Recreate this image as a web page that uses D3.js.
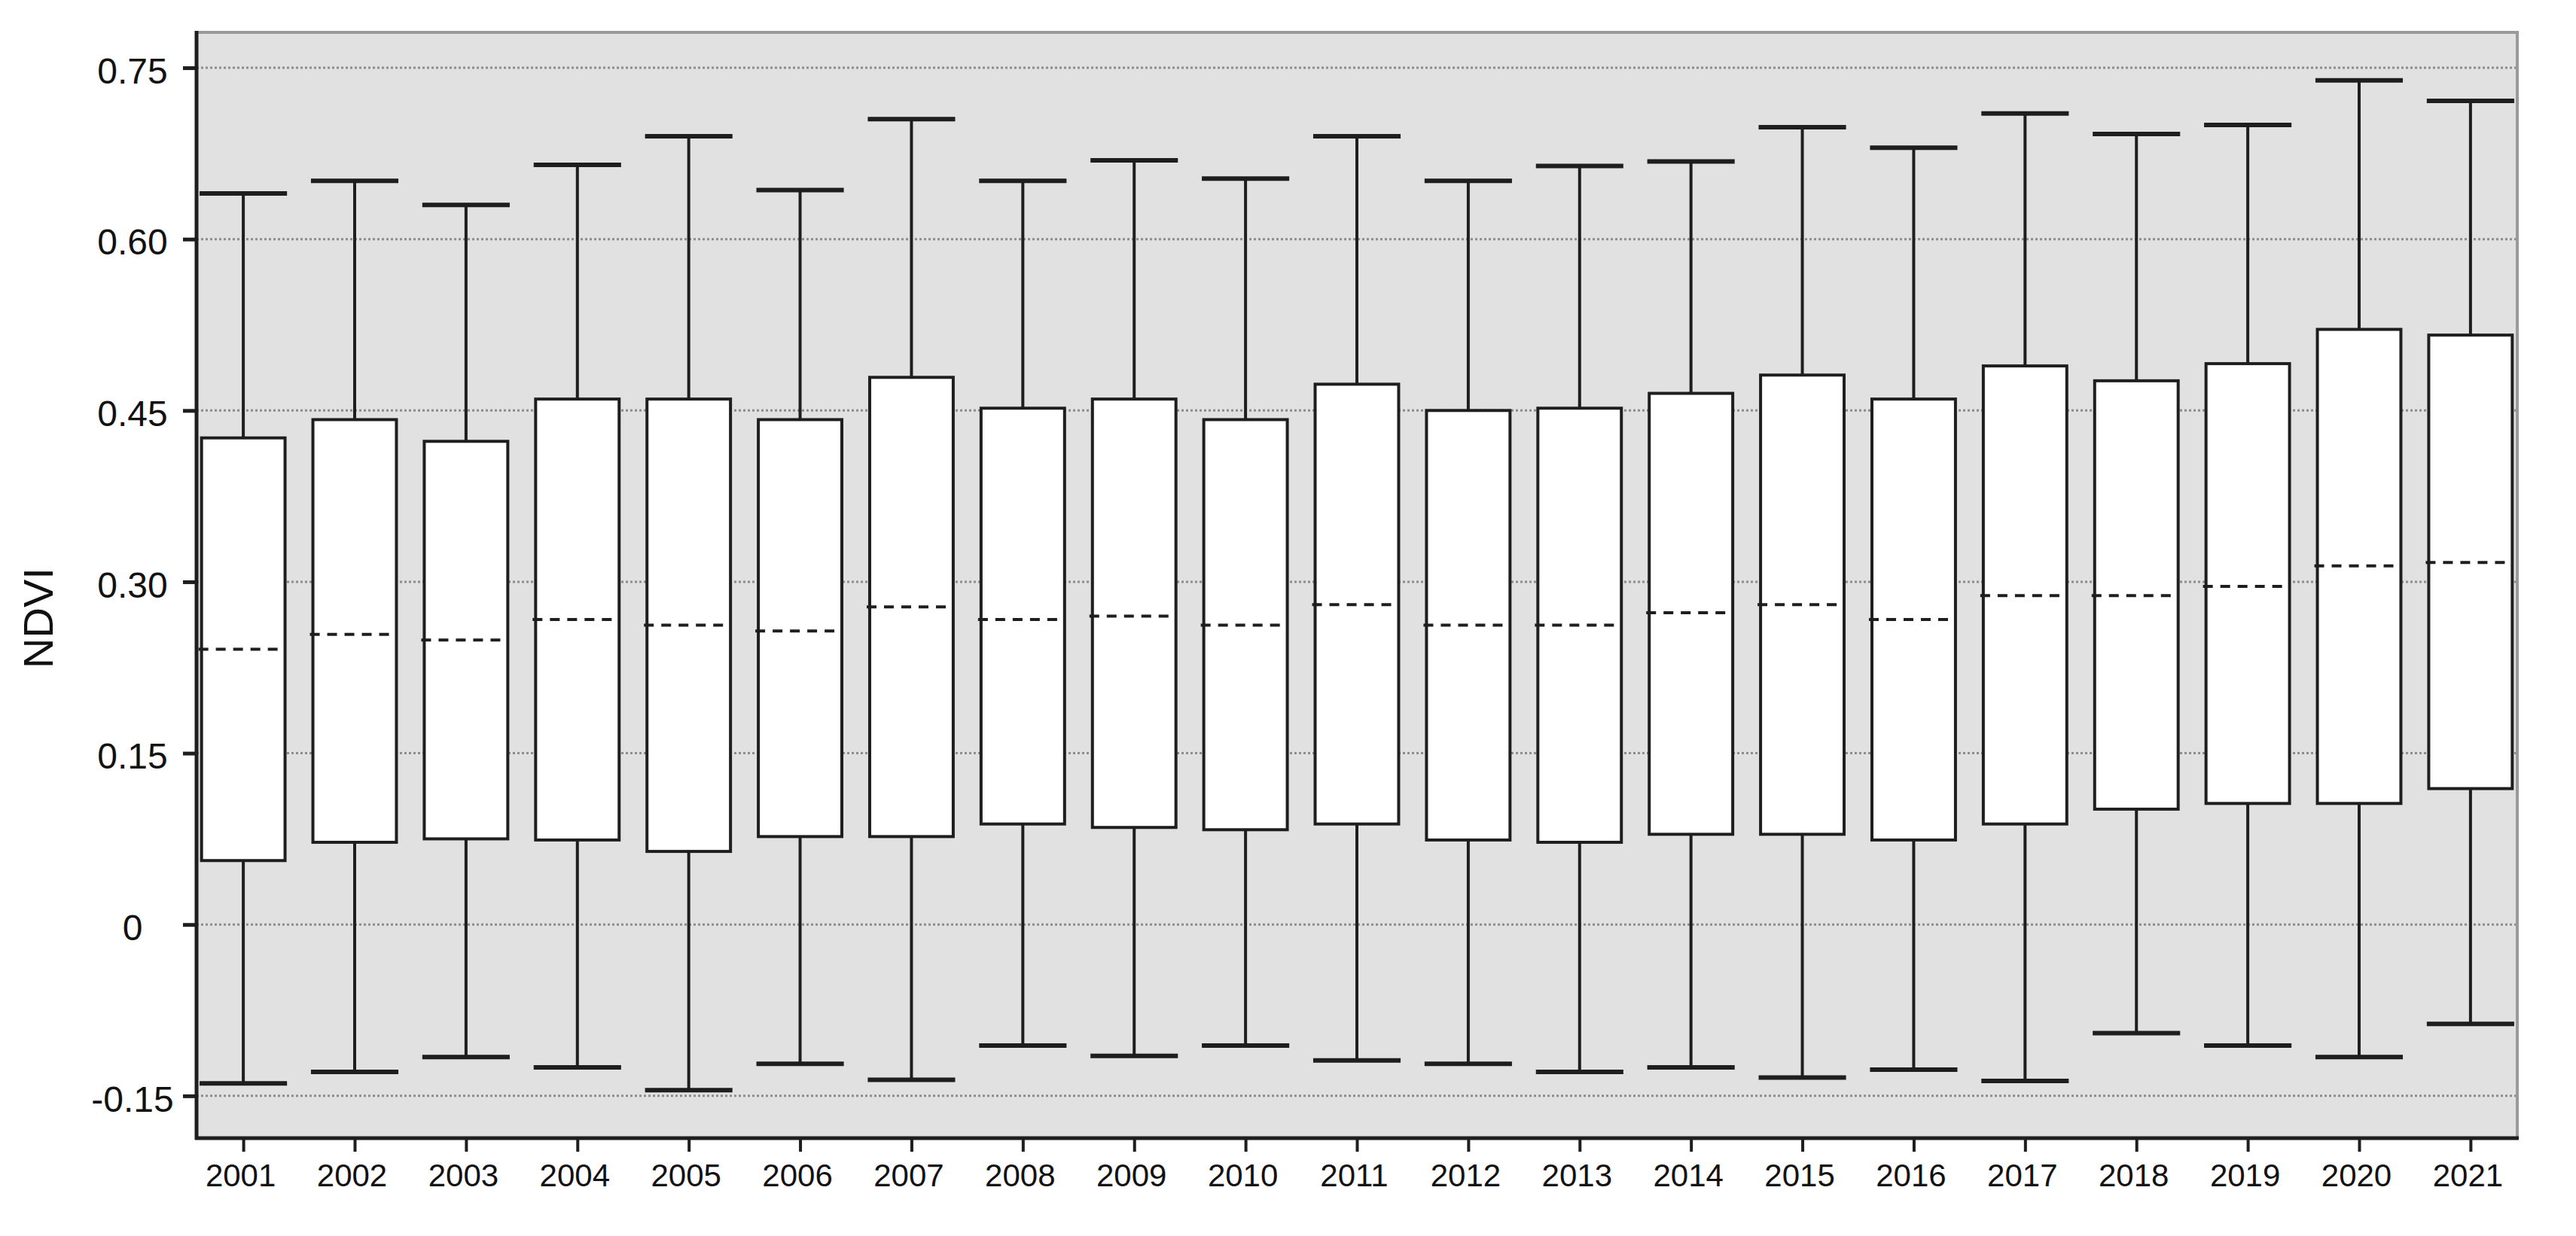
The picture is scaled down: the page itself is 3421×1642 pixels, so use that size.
<!DOCTYPE html>
<html>
<head>
<meta charset="utf-8">
<script src="https://cdn.jsdelivr.net/npm/d3@7"></script>
<style>
    body { margin: 0; background: #fff; }
    text { font-family: "Liberation Sans", Arial, sans-serif; fill: #111; }
</style>
</head>
<body>
<div id="chart"></div>
<script>
// NDVI box plot values
var years = ["2001", "2002", "2003", "2004", "2005", "2006", "2007", "2008", "2009", "2010", "2011",
             "2012", "2013", "2014", "2015", "2016", "2017", "2018", "2019", "2020", "2021"];
var upper  = [0.640, 0.651, 0.630, 0.665, 0.690, 0.643, 0.705, 0.651, 0.669, 0.653, 0.690,
              0.651, 0.664, 0.668, 0.698, 0.680, 0.710, 0.692, 0.700, 0.739, 0.721];
var q3     = [0.426, 0.442, 0.423, 0.460, 0.460, 0.442, 0.479, 0.452, 0.460, 0.442, 0.473,
              0.450, 0.452, 0.465, 0.481, 0.460, 0.489, 0.476, 0.491, 0.521, 0.516];
var median = [0.241, 0.254, 0.249, 0.267, 0.262, 0.257, 0.278, 0.267, 0.270, 0.262, 0.280,
              0.262, 0.262, 0.273, 0.280, 0.267, 0.288, 0.288, 0.296, 0.314, 0.317];
var q1     = [0.056, 0.072, 0.075, 0.074, 0.064, 0.077, 0.077, 0.088, 0.085, 0.083, 0.088,
              0.074, 0.072, 0.079, 0.079, 0.074, 0.088, 0.101, 0.106, 0.106, 0.119];
var lower  = [-0.139, -0.129, -0.116, -0.125, -0.145, -0.122, -0.136, -0.106, -0.115, -0.106, -0.119,
              -0.122, -0.129, -0.125, -0.134, -0.127, -0.137, -0.095, -0.106, -0.116, -0.087];
var yTicks = [-0.15, 0, 0.15, 0.30, 0.45, 0.60, 0.75];
var yTickLabels = ["-0.15", "0", "0.15", "0.30", "0.45", "0.60", "0.75"];

var data = years.map(function(y, i) {
    return { year: y, upper: upper[i], q3: q3[i], median: median[i], q1: q1[i], lower: lower[i] };
});

var outerWidth = 3421;
var outerHeight = 1642;

var margin = {top: 43, right: 78, bottom: 130, left: 261}
    , width = outerWidth - margin.left - margin.right
    , height = outerHeight - margin.top - margin.bottom;

var svg = d3.select("#chart")
    .append("svg")
    .attr("width", outerWidth)
    .attr("height", outerHeight)
    .append("g")
    .attr("transform", "translate(" + margin.left + "," + margin.top + ")");

var xScale = d3.scalePoint()
    .domain(years)
    .range([0, width])
    .padding(0.42);

var yScale = d3.scaleLinear()
    .domain([-0.187, 0.781])
    .range([height, 0]);

var step = xScale.step();
var boxW = step * 0.75;
var capW = step * 0.785;

// plot background
svg.append("rect")
    .attr("width", width)
    .attr("height", height)
    .attr("fill", "#e1e1e1");

// dotted grid
svg.selectAll(".grid")
    .data(yTicks)
    .enter()
    .append("line")
    .attr("class", "grid")
    .attr("x1", 0)
    .attr("x2", width)
    .attr("y1", d => yScale(d))
    .attr("y2", d => yScale(d))
    .attr("stroke", "#8c8c8c")
    .attr("stroke-width", 3)
    .attr("stroke-dasharray", "3,3");

// top and right frame in grey
svg.append("path")
    .attr("d", "M0,0H" + width + "V" + height)
    .attr("fill", "none")
    .attr("stroke", "#9a9a9a")
    .attr("stroke-width", 4);

var boxes = svg.selectAll(".box")
    .data(data)
    .enter()
    .append("g")
    .attr("class", "box")
    .attr("transform", d => "translate(" + xScale(d.year) + ",0)");

// whiskers
boxes.append("line")
    .attr("x1", 0).attr("x2", 0)
    .attr("y1", d => yScale(d.upper))
    .attr("y2", d => yScale(d.q3))
    .attr("stroke", "#1e1e1e")
    .attr("stroke-width", 4);

boxes.append("line")
    .attr("x1", 0).attr("x2", 0)
    .attr("y1", d => yScale(d.q1))
    .attr("y2", d => yScale(d.lower))
    .attr("stroke", "#1e1e1e")
    .attr("stroke-width", 4);

// caps
boxes.append("line")
    .attr("x1", -capW / 2).attr("x2", capW / 2)
    .attr("y1", d => yScale(d.upper))
    .attr("y2", d => yScale(d.upper))
    .attr("stroke", "#1e1e1e")
    .attr("stroke-width", 6);

boxes.append("line")
    .attr("x1", -capW / 2).attr("x2", capW / 2)
    .attr("y1", d => yScale(d.lower))
    .attr("y2", d => yScale(d.lower))
    .attr("stroke", "#1e1e1e")
    .attr("stroke-width", 6);

// the box
boxes.append("rect")
    .attr("x", -boxW / 2)
    .attr("width", boxW)
    .attr("y", d => yScale(d.q3))
    .attr("height", d => yScale(d.q1) - yScale(d.q3))
    .attr("fill", "#fff")
    .attr("stroke", "#1e1e1e")
    .attr("stroke-width", 4);

// dashed median
boxes.append("line")
    .attr("x1", -boxW / 2 - 4)
    .attr("x2", boxW / 2 - 8)
    .attr("y1", d => yScale(d.median))
    .attr("y2", d => yScale(d.median))
    .attr("stroke", "#1e1e1e")
    .attr("stroke-width", 4)
    .attr("stroke-dasharray", "13,10");

// axes
var xAxis = d3.axisBottom(xScale)
    .tickSize(18)
    .tickPadding(16);

var gx = svg.append("g")
    .attr("class", "axis x-axis")
    .attr("transform", "translate(0," + height + ")")
    .call(xAxis);

gx.select(".domain")
    .attr("d", "M-2,0H" + (width + 2))
    .attr("stroke", "#1e1e1e")
    .attr("stroke-width", 5);
gx.selectAll(".tick line").attr("stroke", "#1e1e1e").attr("stroke-width", 4);
gx.selectAll(".tick text")
    .attr("font-size", 42)
    .attr("dy", "0.71em")
    .attr("dx", -4);

var yAxis = d3.axisLeft(yScale)
    .tickValues(yTicks)
    .tickSize(18)
    .tickFormat((d, i) => yTickLabels[i]);

var gy = svg.append("g")
    .attr("class", "axis y-axis")
    .call(yAxis);

gy.select(".domain")
    .attr("d", "M0,-2V" + (height + 2))
    .attr("stroke", "#1e1e1e")
    .attr("stroke-width", 5);
gy.selectAll(".tick line").attr("stroke", "#1e1e1e").attr("stroke-width", 5);
gy.selectAll(".tick text")
    .attr("font-size", 48)
    .attr("text-anchor", "middle")
    .attr("x", -85)
    .attr("dy", "0.42em");

svg.append("text")
    .attr("transform", "translate(" + (52 + 18 - margin.left) + "," + (821 - margin.top) + ") rotate(-90)")
    .attr("text-anchor", "middle")
    .attr("font-size", 56)
    .text("NDVI");
</script>
</body>
</html>
